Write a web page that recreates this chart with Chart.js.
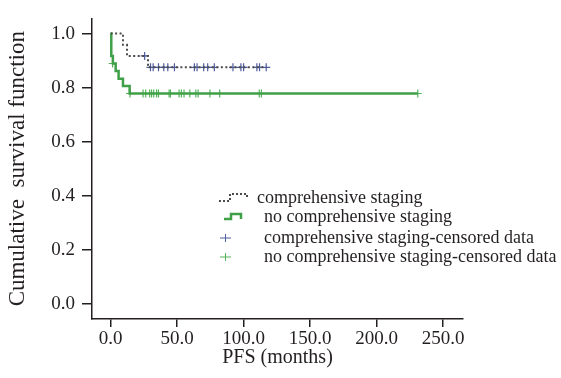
<!DOCTYPE html>
<html>
<head>
<meta charset="utf-8">
<script src="https://cdn.jsdelivr.net/npm/chart.js@4.4.1/dist/chart.umd.min.js"></script>
<style>
  body { margin: 0; background: #fff; }
  canvas { display: block; }
</style>
</head>
<body>
<canvas id="km" width="561" height="378"></canvas>
<script>
// step points of each Kaplan-Meier curve (months, survival)
const compTimes = [0, 9.3, 12.3, 28.1, 117];
const compSurv = [1.0, 0.958, 0.917, 0.875, 0.875];
const noCompTimes = [0, 0.5, 1.7, 3.8, 6.0, 9.3, 14.3, 231];
const noCompSurv = [1.0, 0.917, 0.889, 0.861, 0.833, 0.806, 0.778, 0.778];

// censored observations
const compCensTimes = [25.6, 30, 32, 36, 40, 43, 48, 63, 65, 70, 73, 78, 92, 98, 100, 110, 112, 117];
const compCensSurv = [0.917, 0.875, 0.875, 0.875, 0.875, 0.875, 0.875, 0.875, 0.875, 0.875,
  0.875, 0.875, 0.875, 0.875, 0.875, 0.875, 0.875, 0.875];
const noCompCensTimes = [1.5, 14.6, 24.4, 26.4, 29.4, 30.8, 32.4, 34.6, 36, 44, 45, 51.5, 53.2,
  55.2, 59.6, 64.1, 65.8, 74.7, 82, 111.8, 113.4, 231];
const noCompCensSurv = [0.889, 0.778, 0.778, 0.778, 0.778, 0.778, 0.778, 0.778, 0.778, 0.778,
  0.778, 0.778, 0.778, 0.778, 0.778, 0.778, 0.778, 0.778, 0.778, 0.778, 0.778, 0.778];

const xTicks = [0, 50, 100, 150, 200, 250];
const yTicks = [0, 0.2, 0.4, 0.6, 0.8, 1.0];
const legendLabels = [
  'comprehensive staging',
  'no comprehensive staging',
  'comprehensive staging-censored data',
  'no comprehensive staging-censored data'
];

const grayCol = '#4a4a4a';
const greenCol = '#3fa047';
const blueCross = '#4d5c9c';
const greenCross = '#55b25b';
const inkCol = '#231f20';
const serif = 'Liberation Serif, Times New Roman, serif';

function pts(xs, ys) {
  return xs.map((x, i) => ({ x: x, y: ys[i] }));
}

// legend drawn inside the plot, like the original figure
const kmLegend = {
  id: 'kmLegend',
  afterDraw(chart) {
    const ctx = chart.ctx;
    ctx.save();
    ctx.font = '18px ' + serif;
    ctx.fillStyle = inkCol;
    ctx.textBaseline = 'middle';
    ctx.textAlign = 'left';

    // dotted step
    ctx.strokeStyle = grayCol;
    ctx.lineWidth = 2;
    ctx.setLineDash([2, 2]);
    ctx.beginPath();
    ctx.moveTo(219, 201); ctx.lineTo(230, 201); ctx.lineTo(230, 194);
    ctx.lineTo(247, 194); ctx.lineTo(247, 199);
    ctx.stroke();
    ctx.setLineDash([]);
    ctx.fillText(legendLabels[0], 257, 198);

    // solid green step
    ctx.strokeStyle = greenCol;
    ctx.lineWidth = 2.5;
    ctx.beginPath();
    ctx.moveTo(224, 219); ctx.lineTo(231, 219); ctx.lineTo(231, 214);
    ctx.lineTo(241, 214); ctx.lineTo(241, 219);
    ctx.stroke();
    ctx.fillText(legendLabels[1], 264, 217);

    // crosses
    ctx.lineWidth = 1;
    [[blueCross, 238, 2], [greenCross, 257, 3]].forEach(([c, y, i]) => {
      ctx.strokeStyle = c;
      ctx.beginPath();
      ctx.moveTo(220, y); ctx.lineTo(231, y);
      ctx.moveTo(225.5, y - 4); ctx.lineTo(225.5, y + 4);
      ctx.stroke();
      ctx.fillText(legendLabels[i], 264, y);
    });
    ctx.restore();
  }
};

new Chart(document.getElementById('km'), {
  type: 'line',
  data: {
    datasets: [
      {
        label: legendLabels[0],
        data: pts(compTimes, compSurv),
        stepped: 'before',
        borderColor: grayCol,
        borderWidth: 2,
        borderDash: [2, 2.5],
        pointRadius: 0,
        fill: false
      },
      {
        label: legendLabels[1],
        data: pts(noCompTimes, noCompSurv),
        stepped: 'before',
        borderColor: greenCol,
        borderWidth: 2.5,
        pointRadius: 0,
        fill: false
      },
      {
        label: legendLabels[2],
        data: pts(compCensTimes, compCensSurv),
        showLine: false,
        pointStyle: 'cross',
        pointRadius: 4,
        pointBorderWidth: 1.2,
        borderColor: blueCross
      },
      {
        label: legendLabels[3],
        data: pts(noCompCensTimes, noCompCensSurv),
        showLine: false,
        pointStyle: 'cross',
        pointRadius: 4,
        pointBorderWidth: 1.2,
        borderColor: greenCross
      }
    ]
  },
  options: {
    responsive: false,
    animation: false,
    layout: { padding: { top: 5, right: 98, left: 0, bottom: 0 } },
    plugins: {
      legend: { display: false },
      tooltip: { enabled: false }
    },
    scales: {
      x: {
        type: 'linear',
        min: -14,
        max: 265,
        afterFit(scale) { scale.height = 59; },
        afterBuildTicks(scale) { scale.ticks = xTicks.map(v => ({ value: v })); },
        grid: { drawOnChartArea: false, drawTicks: true, tickLength: 8, color: inkCol, lineWidth: 1.5 },
        border: { color: inkCol, width: 1.5 },
        ticks: {
          padding: 1,
          color: inkCol,
          font: { family: serif, size: 19 },
          maxRotation: 0,
          callback: v => v.toFixed(1)
        },
        title: {
          display: true,
          text: 'PFS (months)',
          color: inkCol,
          font: { family: serif, size: 20 },
          padding: { top: 0, bottom: 8 }
        }
      },
      y: {
        type: 'linear',
        min: -0.057,
        max: 1.056,
        afterFit(scale) { scale.width = 92; },
        afterBuildTicks(scale) { scale.ticks = yTicks.map(v => ({ value: v })); },
        grid: { drawOnChartArea: false, drawTicks: true, tickLength: 10, color: inkCol, lineWidth: 1.5 },
        border: { color: inkCol, width: 1.5 },
        ticks: {
          padding: 7,
          color: inkCol,
          font: { family: serif, size: 19 },
          callback: v => v.toFixed(1)
        },
        title: {
          display: true,
          text: 'Cumulative  survival function',
          color: inkCol,
          font: { family: serif, size: 23 },
          padding: { top: 4, bottom: 0 }
        }
      }
    }
  },
  plugins: [kmLegend]
});
</script>
</body>
</html>
